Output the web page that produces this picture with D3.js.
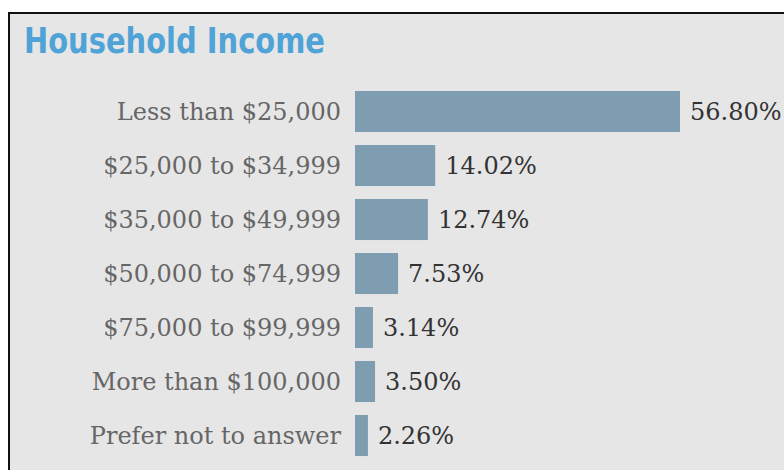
<!DOCTYPE html>
<html>
<head>
<meta charset="utf-8">
<script src="https://cdn.jsdelivr.net/npm/d3@7"></script>
<style>
  html, body { margin: 0; padding: 0; background: #ffffff; }
  svg { display: block; }
</style>
</head>
<body>
<svg id="chart" width="784" height="470"></svg>
<script>
// Household income distribution (share of respondents, %)
const categories = [
  "Less than $25,000",
  "$25,000 to $34,999",
  "$35,000 to $49,999",
  "$50,000 to $74,999",
  "$75,000 to $99,999",
  "More than $100,000",
  "Prefer not to answer"
];
const shares = [56.80, 14.02, 12.74, 7.53, 3.14, 3.50, 2.26];
const valueLabels = ["56.80%", "14.02%", "12.74%", "7.53%", "3.14%", "3.50%", "2.26%"];
const title = "Household Income";

const svg = d3.select("#chart");
const W = 784, H = 470;

// Panel: grey card with a dark rule on the top and left edges
const panel = { x: 8, y: 12 };
svg.append("rect")
  .attr("x", panel.x).attr("y", panel.y)
  .attr("width", W - panel.x).attr("height", H - panel.y)
  .attr("fill", "#e6e6e6");
svg.append("path")
  .attr("d", `M${panel.x + 1},${H} V${panel.y + 1} H${W}`)
  .attr("fill", "none")
  .attr("stroke", "#111")
  .attr("stroke-width", 2);

// Title
svg.append("text")
  .attr("x", 24).attr("y", 53)
  .attr("font-family", "'DejaVu Sans Condensed', 'DejaVu Sans', sans-serif")
  .attr("font-weight", "bold")
  .attr("font-size", 35)
  .attr("textLength", 301)
  .attr("lengthAdjust", "spacingAndGlyphs")
  .attr("fill", "#4fa3d6")
  .text(title);

const data = categories.map((c, i) => ({ cat: c, v: shares[i], label: valueLabels[i] }));

const x = d3.scaleLinear().domain([0, 56.80]).range([355, 680]);
const step = 54, pad = 0.24;
const y = d3.scaleBand()
  .domain(categories)
  .range([91 - pad * step, 91 - pad * step + step * (categories.length + pad)])
  .padding(pad);

const fontSerif = "'DejaVu Serif', serif";
const fs = 24;

// Category labels (left axis, no line or ticks)
const axis = d3.axisLeft(y).tickSize(0).tickPadding(0);
const gAxis = svg.append("g")
  .attr("transform", `translate(${x(0) - 14},0)`)
  .call(axis);
gAxis.select(".domain").remove();
gAxis.selectAll("text")
  .attr("font-family", fontSerif)
  .attr("font-size", fs)
  .attr("fill", "#666")
  .attr("dy", "0.36em");

// Bars
svg.append("g").selectAll("rect")
  .data(data)
  .join("rect")
  .attr("x", x(0))
  .attr("y", d => y(d.cat))
  .attr("width", d => x(d.v) - x(0))
  .attr("height", y.bandwidth())
  .attr("fill", "#7e9db0");

// Value labels
svg.append("g").selectAll("text")
  .data(data)
  .join("text")
  .attr("x", d => x(d.v) + 10)
  .attr("y", d => y(d.cat) + y.bandwidth() / 2)
  .attr("dy", "0.36em")
  .attr("font-family", fontSerif)
  .attr("font-size", fs)
  .attr("fill", "#333")
  .text(d => d.label);
</script>
</body>
</html>
